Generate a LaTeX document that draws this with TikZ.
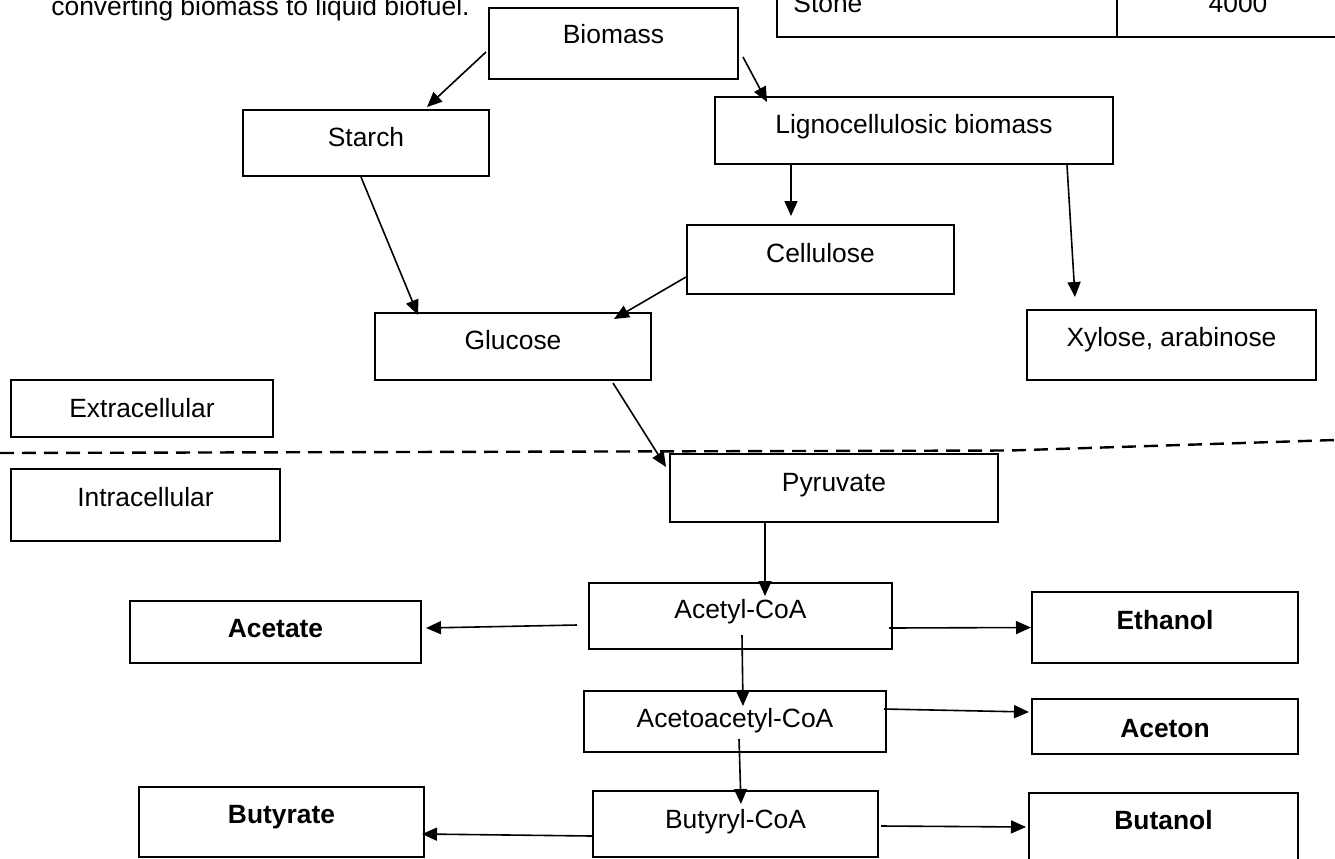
\documentclass[tikz,border=0pt]{standalone}
\usepackage{fontspec}
\setmainfont{Liberation Sans}
\usetikzlibrary{arrows.meta}

\newcommand{\boxfont}{\fontsize{13.2}{15.8}\selectfont}

\begin{document}
\begin{tikzpicture}[x=0.5pt,y=-0.5pt,font=\boxfont,
  box/.style n args={3}{draw,line width=1pt,inner sep=0pt,minimum width=#1,text height=#2,text depth=#3},
  boldbox/.style n args={3}{box={#1}{#2}{#3},font=\boxfont\bfseries},
  arr/.style={line width=0.8pt,-{Triangle[length=7.5pt,width=6.5pt]}},
  plain/.style={inner sep=0pt}]

\useasboundingbox (0,0) rectangle (1335,858);

% text and table cut at the top
\node[plain,anchor=base west] (caption) at (51,15) {converting biomass to liquid biofuel.};
\draw[line width=1pt] (777,-5) -- (777,37) -- (1345,37);
\draw[line width=1pt] (1117,-5) -- (1117,37);
\node[plain,anchor=base west] (stone) at (793,12) {Stone};
\node[plain,anchor=base] (amount) at (1238,12) {4000};

% outside the cell
\node[box={124.5pt}{17.5pt}{18pt}] (biomass) at (613.5,43.5) {Biomass};
\node[box={123pt}{18pt}{15pt}] (starch) at (366,143) {Starch};
\node[box={199pt}{18pt}{15.5pt}] (ligno) at (914,130.5) {Lignocellulosic biomass};
\node[box={133.5pt}{18.5pt}{16pt}] (cellulose) at (820.5,259.5) {Cellulose};
\node[box={138pt}{18pt}{15.5pt}] (glucose) at (513,346.5) {Glucose};
\node[box={144.5pt}{18pt}{17pt}] (xylose) at (1171.5,345) {Xylose, arabinose};
\node[box={131pt}{18.5pt}{10pt}] (extra) at (142,408.5) {Extracellular};

% cell wall
\draw[line width=1.2pt,dash pattern=on 7pt off 4pt] (0,453) -- (1010,450.5) -- (1335,440);

% inside the cell
\node[box={134.5pt}{18.5pt}{17.5pt}] (intra) at (145.5,505) {Intracellular};
\node[box={164pt}{18.5pt}{15.5pt}] (pyruvate) at (834,488) {Pyruvate};
\node[box={151.5pt}{17.5pt}{15.5pt}] (acetyl) at (740.5,616) {Acetyl-CoA};
\node[boldbox={145.5pt}{18pt}{13pt}] (acetate) at (275.5,632) {Acetate};
\node[boldbox={133pt}{18.5pt}{17pt}] (ethanol) at (1165,627.5) {Ethanol};
\node[box={151pt}{18pt}{12.5pt}] (acetoacetyl) at (735,721.5) {Acetoacetyl-CoA};
\node[boldbox={133pt}{19pt}{8.5pt}] (aceton) at (1165,726.5) {Aceton};
\node[box={142.5pt}{18.5pt}{14.5pt}] (butyryl) at (735.5,824) {Butyryl-CoA};
\node[boldbox={142.5pt}{18pt}{17pt}] (butyrate) at (281.5,822) {Butyrate};
\node[boldbox={134.5pt}{18pt}{20pt}] (butanol) at (1163.5,831) {Butanol};

% arrows
\draw[arr] ([xshift=-1pt,yshift=-4.25pt]biomass.west) -- ([xshift=30.5pt,yshift=1pt]starch.north);
\draw[arr] ([xshift=2pt,yshift=-6.75pt]biomass.east) -- ([xshift=26.5pt,yshift=-3pt]ligno.north west);
\draw[arr] ([xshift=38.5pt,yshift=1pt]ligno.south west) -- ([xshift=52.5pt,yshift=4pt]cellulose.north west);
\draw[arr] ([xshift=-23.5pt]ligno.south east) -- ([xshift=24.5pt,yshift=6pt]xylose.north west);
\draw[arr] ([xshift=-2.5pt]starch.south) -- ([xshift=22pt,yshift=-1.5pt]glucose.north west);
\draw[arr] ([yshift=-8.75pt]cellulose.west) -- ([xshift=-19pt,yshift=-3.5pt]glucose.north east);
\draw[arr] ([xshift=-19.5pt,yshift=-1pt]glucose.south east) -- ([xshift=-1.5pt,yshift=-7pt]pyruvate.north west);
\draw[arr] ([xshift=48pt]pyruvate.south west) -- ([xshift=88.5pt,yshift=-7pt]acetyl.north west);
\draw[arr] ([xshift=-5.5pt,yshift=-4.5pt]acetyl.west) -- ([xshift=2pt,yshift=2pt]acetate.east);
\draw[arr] ([xshift=-2pt,yshift=-6pt]acetyl.east) -- (ethanol.west);
\draw[arr] ([xshift=0.75pt,yshift=7.5pt]acetyl.south) -- ([xshift=4pt,yshift=-8pt]acetoacetyl.north);
\draw[arr] ([xshift=-1.5pt,yshift=6.25pt]acetoacetyl.east) -- ([xshift=-1pt,yshift=7.25pt]aceton.west);
\draw[arr] ([xshift=2pt,yshift=7pt]acetoacetyl.south) -- ([xshift=2.75pt,yshift=-7pt]butyryl.north);
\draw[arr] ([yshift=-6pt]butyryl.west) -- ([xshift=-1.5pt,yshift=-6pt]butyrate.east);
\draw[arr] ([xshift=1pt,yshift=-1pt]butyryl.east) -- ([xshift=-1pt,yshift=2pt]butanol.west);

\end{tikzpicture}
\end{document}
